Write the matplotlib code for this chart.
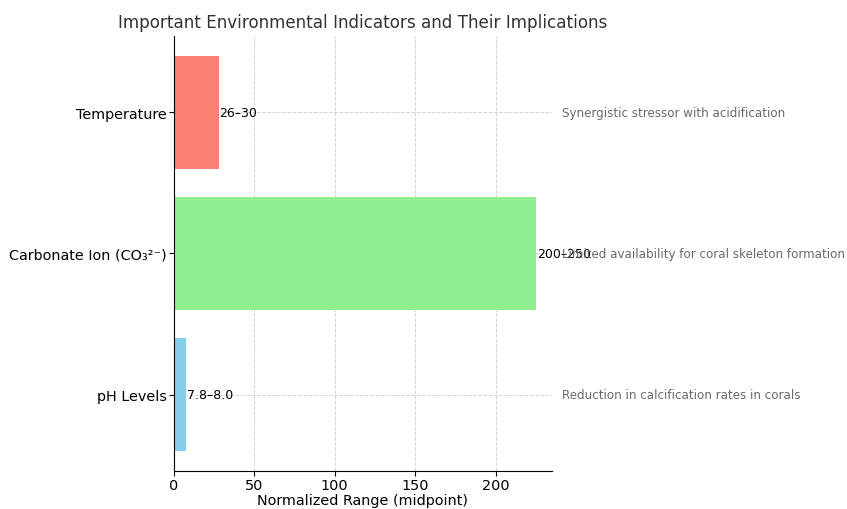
import matplotlib.pyplot as plt

indicators = ["pH Levels", "Carbonate Ion (CO\u2083\u00b2\u207b)", "Temperature"]
midpoints = [7.9, 225, 28]
range_labels = ["7.8\u20138.0", "200\u2013250", "26\u201330"]
implications = [
    "Reduction in calcification rates in corals",
    "Limited availability for coral skeleton formation",
    "Synergistic stressor with acidification",
]
colors = ["skyblue", "lightgreen", "salmon"]

fig, ax = plt.subplots(figsize=(8.47, 5.1), dpi=100)
fig.subplots_adjust(left=0.205, right=0.652, top=0.928, bottom=0.074)

bars = ax.barh(indicators, midpoints, color=colors, zorder=2)
xmax = max(midpoints)
for bar, lab, note in zip(bars, range_labels, implications):
    y = bar.get_y() + bar.get_height() / 2
    ax.text(bar.get_width() + 0.5, y, lab, va="center", ha="left", fontsize=9, zorder=3)
    ax.text(xmax * 1.07, y, note, va="center", ha="left", fontsize=8.6, color="dimgray")

ax.set_xlim(0, 235)
ax.set_title("Important Environmental Indicators and Their Implications", fontsize=12.1, color="#333333")
ax.set_xlabel("Normalized Range (midpoint)", fontsize=10.4, labelpad=1)
ax.tick_params(axis="both", labelsize=10.4, pad=1.2)
ax.grid(True, linestyle="--", color="lightgray", linewidth=0.7, zorder=0)
ax.spines["top"].set_visible(False)
ax.spines["right"].set_visible(False)

fig.savefig("out.png", dpi=100)
